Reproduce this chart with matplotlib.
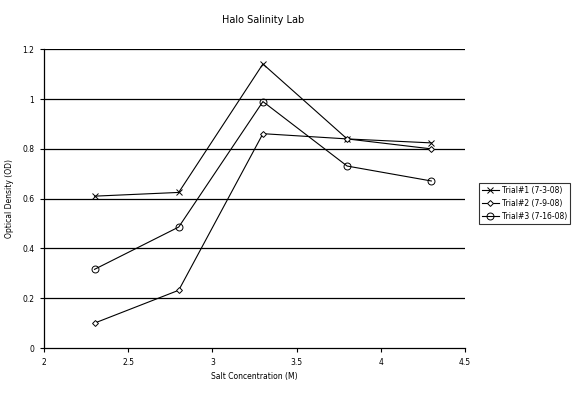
import matplotlib
matplotlib.use("Agg")
import matplotlib.pyplot as plt

x = [2.3, 2.8, 3.3, 3.8, 4.3]
trial1 = [0.61, 0.625, 1.141, 0.840, 0.824]
trial2 = [0.10, 0.232, 0.861, 0.840, 0.80]
trial3 = [0.316, 0.486, 0.990, 0.731, 0.671]
labels = ["Trial#1 (7-3-08)", "Trial#2 (7-9-08)", "Trial#3 (7-16-08)"]
xticks = [2, 2.5, 3, 3.5, 4, 4.5]
yticks = [0, 0.2, 0.4, 0.6, 0.8, 1, 1.2]

fig = plt.figure(figsize=(5.77, 3.94), dpi=100)
ax = fig.add_axes([44/577, 1-348/394, (465-44)/577, (348-49.3)/394])

ax.plot(x, trial1, color="black", lw=0.8, marker="x", ms=4, mew=0.7, label=labels[0])
ax.plot(x, trial2, color="black", lw=0.8, marker="D", ms=3, mfc="white", mew=0.7, label=labels[1])
ax.plot(x, trial3, color="black", lw=0.8, marker="o", ms=5, mfc="none", mew=0.7, label=labels[2])

ax.set_xlim(2, 4.5)
ax.set_ylim(0, 1.2)
ax.set_xticks(xticks)
ax.set_yticks(yticks)
ax.set_xticklabels([f"{v:g}" for v in xticks])
ax.set_yticklabels([f"{v:g}" for v in yticks])
ax.tick_params(labelsize=5.5, length=3, width=0.8, direction="out", pad=4)
for yv in yticks[1:]:
    ax.axhline(yv, color="black", lw=0.9, zorder=0)
ax.spines["top"].set_visible(False)
ax.spines["right"].set_visible(False)
ax.spines["left"].set_linewidth(0.9)
ax.spines["bottom"].set_linewidth(0.9)

ax.set_xlabel("Salt Concentration (M)", fontsize=5.5, labelpad=4)
ax.set_ylabel("Optical Density (OD)", fontsize=5.5, labelpad=6)
fig.text(263/577, 1-20/394, "Halo Salinity Lab", ha="center", va="center", fontsize=7)

leg = fig.legend(loc="upper left", bbox_to_anchor=(479/577, 1-183/394), fontsize=5.5,
                 frameon=True, fancybox=False, edgecolor="black", handlelength=2.2,
                 borderpad=0.4, labelspacing=0.5, handletextpad=0.4, borderaxespad=0)
leg.get_frame().set_linewidth(0.8)

fig.savefig("out.png", dpi=100)
